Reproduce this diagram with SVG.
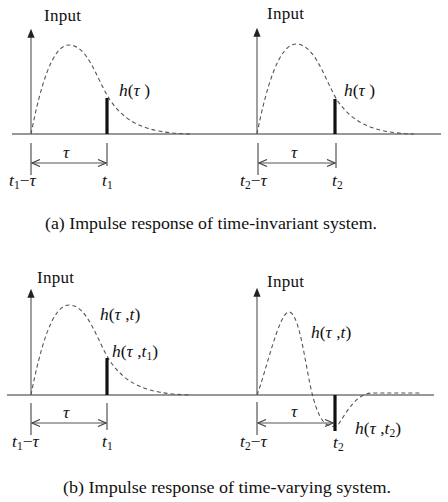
<svg xmlns="http://www.w3.org/2000/svg" width="448" height="502" viewBox="0 0 448 502" font-family="Liberation Serif, serif">
<defs>
<marker id="head" viewBox="0 0 10 8" refX="2" refY="4" markerWidth="9" markerHeight="8" markerUnits="userSpaceOnUse" orient="auto"><path d="M0,0 L10,4 L0,8 z" fill="#222"/></marker>
<marker id="chev" viewBox="0 0 10 8" refX="9" refY="4" markerWidth="10" markerHeight="8" markerUnits="userSpaceOnUse" orient="auto-start-reverse"><path d="M1,0.5 L9,4 L1,7.5" fill="none" stroke="#444" stroke-width="1.2"/></marker>
<style>
.ax{stroke:#333;stroke-width:1.1;fill:none}
.vax{stroke:#777;stroke-width:1.4;fill:none;marker-end:url(#head)}
.cur{stroke:#555;stroke-width:1.1;fill:none;stroke-dasharray:4 3}
.imp{stroke:#111;stroke-width:3.2}
.tick{stroke:#333;stroke-width:1}
.dim{stroke:#555;stroke-width:1.1;marker-start:url(#chev);marker-end:url(#chev)}
text{font-family:'Liberation Serif',serif;fill:#111;font-size:17.5px}
.lab{font-size:17px}
.cap{font-size:17.5px}
.i{font-style:italic}
.sub{font-size:11.5px}
</style>
</defs>
<g id="connectors">
<line class="ax" x1="12" y1="134" x2="441" y2="134"/>
<line class="ax" x1="7" y1="395" x2="434" y2="395"/>
<line class="vax" x1="31" y1="134" x2="31" y2="36"/>
<line class="vax" x1="257" y1="134" x2="257" y2="35"/>
<line class="vax" x1="31" y1="395" x2="31" y2="296"/>
<line class="vax" x1="257" y1="395" x2="257" y2="295"/>
<line class="tick" x1="31" y1="143" x2="31" y2="175"/>
<line class="tick" x1="107" y1="143" x2="107" y2="166"/>
<line class="tick" x1="258" y1="143" x2="258" y2="175"/>
<line class="tick" x1="336" y1="143" x2="336" y2="168"/>
<line class="tick" x1="31" y1="403" x2="31" y2="435"/>
<line class="tick" x1="107" y1="403" x2="107" y2="430"/>
<line class="tick" x1="257" y1="402" x2="257" y2="435"/>
<line class="dim" x1="32" y1="163" x2="106" y2="163"/>
<line class="dim" x1="259" y1="163" x2="335" y2="163"/>
<line class="dim" x1="32" y1="423" x2="106" y2="423"/>
<line class="dim" x1="258" y1="423" x2="333" y2="423"/>
</g>
<g id="panel-a1">
<path class="cur" d="M31,134 C40,88 52,45 69,45 C88,45 97,80 110,100 C125,122 145,133 190,134"/>
<line class="imp" x1="107" y1="98" x2="107" y2="134"/>
<text class="lab" x="44" y="21" textLength="37">Input</text>
<text x="119" y="96"><tspan class="i">h</tspan>(<tspan class="i">τ</tspan> )</text>
<text x="63" y="158" class="i">τ</text>
<text x="9" y="186"><tspan class="i">t</tspan><tspan class="sub" dy="3">1</tspan><tspan dy="-3">−</tspan><tspan class="i">τ</tspan></text>
<text x="102" y="186"><tspan class="i">t</tspan><tspan class="sub" dy="3">1</tspan></text>
</g>
<g id="panel-a2">
<path class="cur" d="M257,134 C266,88 279,44 296,44 C315,44 325,80 337,100 C352,122 372,133 414,134"/>
<line class="imp" x1="335" y1="99" x2="335" y2="134"/>
<text class="lab" x="267" y="19" textLength="37">Input</text>
<text x="344" y="96"><tspan class="i">h</tspan>(<tspan class="i">τ</tspan> )</text>
<text x="291" y="158" class="i">τ</text>
<text x="240" y="186"><tspan class="i">t</tspan><tspan class="sub" dy="3">2</tspan><tspan dy="-3">−</tspan><tspan class="i">τ</tspan></text>
<text x="332" y="186"><tspan class="i">t</tspan><tspan class="sub" dy="3">2</tspan></text>
</g>
<g id="caption-a">
<text class="cap" x="45" y="229" textLength="332" lengthAdjust="spacingAndGlyphs">(a) Impulse response of time-invariant system.</text>
</g>
<g id="panel-b1">
<path class="cur" d="M31,395 C40,349 52,305 69,305 C88,305 97,341 110,361 C125,383 145,394 190,395"/>
<line class="imp" x1="107" y1="358" x2="107" y2="395"/>
<text class="lab" x="37" y="283" textLength="37">Input</text>
<text x="100" y="320"><tspan class="i">h</tspan>(<tspan class="i">τ</tspan> ,<tspan class="i">t</tspan>)</text>
<text x="112" y="357"><tspan class="i">h</tspan>(<tspan class="i">τ</tspan> ,<tspan class="i">t</tspan><tspan class="sub" dy="3">1</tspan><tspan dy="-3">)</tspan></text>
<text x="63" y="418" class="i">τ</text>
<text x="12" y="447"><tspan class="i">t</tspan><tspan class="sub" dy="3">1</tspan><tspan dy="-3">−</tspan><tspan class="i">τ</tspan></text>
<text x="102" y="447"><tspan class="i">t</tspan><tspan class="sub" dy="3">1</tspan></text>
</g>
<g id="panel-b2">
<path class="cur" d="M257,395 C266,372 279,312 289,312 C300,312 306,372 313,397 C317,412 322,424 330,426 C334,427 336,426 338,425 C348,410 356,394 372,393 L422,393"/>
<line class="imp" x1="335" y1="395" x2="335" y2="431"/>
<text class="lab" x="267" y="287" textLength="37">Input</text>
<text x="311" y="338"><tspan class="i">h</tspan>(<tspan class="i">τ</tspan> ,<tspan class="i">t</tspan>)</text>
<text x="355" y="434"><tspan class="i">h</tspan>(<tspan class="i">τ</tspan> ,<tspan class="i">t</tspan><tspan class="sub" dy="3">2</tspan><tspan dy="-3">)</tspan></text>
<text x="291" y="417" class="i">τ</text>
<text x="240" y="447"><tspan class="i">t</tspan><tspan class="sub" dy="3">2</tspan><tspan dy="-3">−</tspan><tspan class="i">τ</tspan></text>
<text x="333" y="448"><tspan class="i">t</tspan><tspan class="sub" dy="3">2</tspan></text>
</g>
<g id="caption-b">
<text class="cap" x="63" y="493" textLength="328" lengthAdjust="spacingAndGlyphs">(b) Impulse response of time-varying system.</text>
</g>
</svg>
